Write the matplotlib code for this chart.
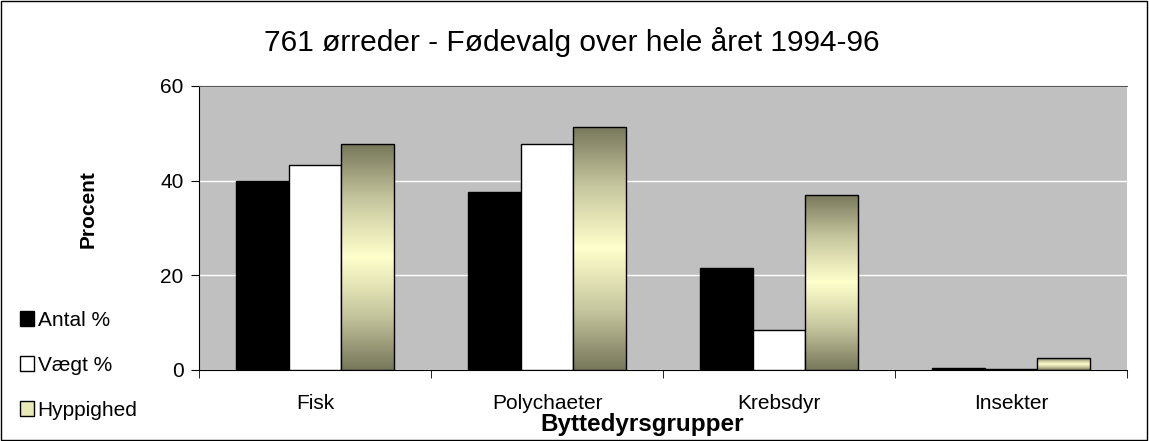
import matplotlib.pyplot as plt
import matplotlib.patches as mpatches
from matplotlib.colors import LinearSegmentedColormap
import numpy as np

plt.rcParams['font.family'] = ['Liberation Sans', 'DejaVu Sans']

categories = ['Fisk', 'Polychaeter', 'Krebsdyr', 'Insekter']
antal = [40.0, 37.6, 21.5, 0.5]
vaegt = [43.4, 47.7, 8.4, 0.3]
hyppighed = [47.7, 51.4, 37.0, 2.5]
series_names = ['Antal %', 'Vægt %', 'Hyppighed']

fig = plt.figure(figsize=(11.49, 4.41), dpi=100)
ax = fig.add_axes([0.1732, 0.161, 0.8077, 0.644])
ax.set_facecolor('#c0c0c0')

x = np.arange(len(categories))
w = 0.226

ax.bar(x - w, antal, w, color='black', edgecolor='black', lw=1, zorder=3)
ax.bar(x, vaegt, w, color='white', edgecolor='black', lw=1, zorder=3)
hb = ax.bar(x + w, hyppighed, w, color='none', edgecolor='black', lw=1, zorder=4)

# vertical gradient for Hyppighed bars: dark - light - dark
cmap = LinearSegmentedColormap.from_list('g', ['#77775b', '#c8c8a0', '#ffffcc', '#c8c8a0', '#77775b'])
grad = np.linspace(0, 1, 256).reshape(-1, 1)
for rect in hb:
    bx, by = rect.get_x(), rect.get_y()
    bw, bh = rect.get_width(), rect.get_height()
    im = ax.imshow(grad, cmap=cmap, aspect='auto', extent=[bx, bx + bw, by, by + bh],
                   origin='lower', zorder=3)
    im.set_clip_path(rect)

ax.set_xlim(-0.5, 3.5)
ax.set_ylim(0, 60)
ax.set_yticks([0, 20, 40, 60])
ax.yaxis.grid(True, color='white', lw=1, zorder=1)
ax.set_axisbelow(True)
ax.set_xticks(x)
ax.set_xticklabels(categories, fontsize=15)
ax.set_xticks(np.arange(-0.5, 4.0, 1.0), minor=True)
ax.tick_params(axis='x', which='major', length=0, pad=17)
ax.tick_params(axis='x', which='minor', length=6, direction='out', color='black')
ax.tick_params(axis='y', length=6, direction='out', labelsize=15, pad=5)
ax.spines['right'].set_visible(False)
ax.spines['top'].set_color('#555555')
ax.spines['left'].set_color('black')
ax.spines['bottom'].set_color('black')

ax.set_xlabel('Byttedyrsgrupper', fontsize=17.5, fontweight='bold')
ax.xaxis.set_label_coords(0.477, -0.151)
ax.set_ylabel('Procent', fontsize=15, fontweight='bold')
ax.yaxis.set_label_coords(-0.109, 0.565)

fig.text(0.498, 0.905, '761 ørreder - Fødevalg over hele året 1994-96', ha='center', va='center', fontsize=21.5)

handles = [mpatches.Patch(facecolor='black', edgecolor='black'),
           mpatches.Patch(facecolor='white', edgecolor='black'),
           mpatches.Patch(facecolor='#e8e8b8', edgecolor='black')]
fig.legend(handles, series_names, loc='upper left', bbox_to_anchor=(0.001, 0.338),
           frameon=False, fontsize=15, handlelength=0.7, handleheight=0.7,
           handletextpad=0.15, labelspacing=1.25)

fig.patches.append(mpatches.Rectangle((0.001, 0.002), 0.997, 0.996, transform=fig.transFigure,
                                      fill=False, edgecolor='black', lw=1))

fig.savefig('out.png', dpi=100)
